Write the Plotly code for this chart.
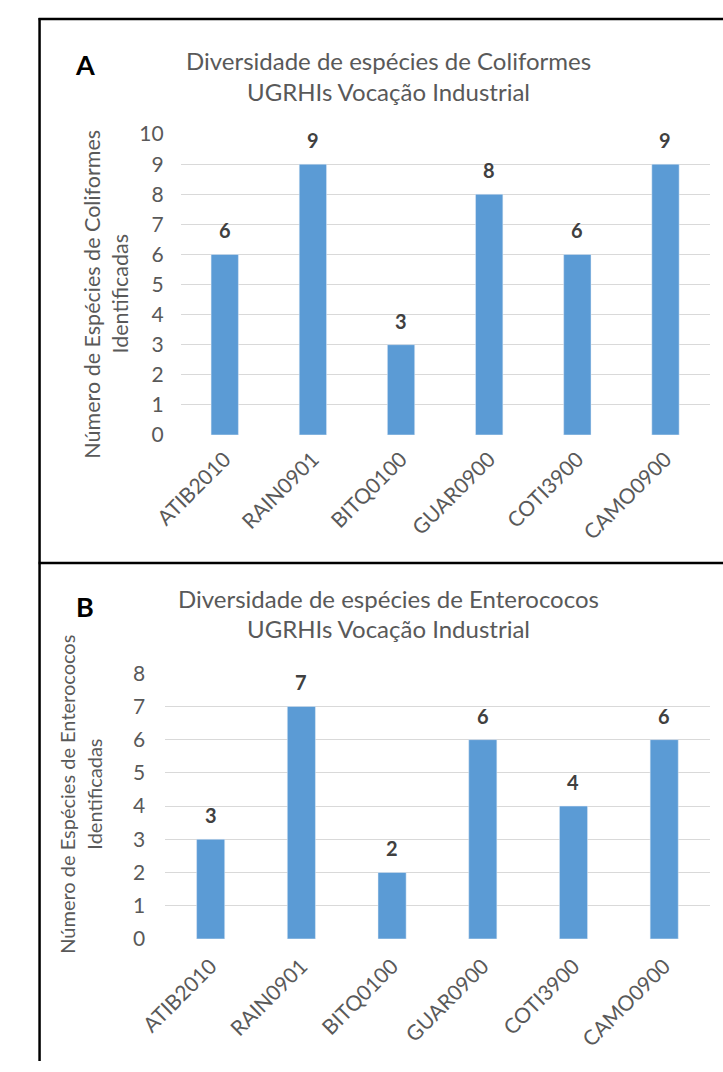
import plotly.graph_objects as go

W, H = 723, 1072

# Sampling stations and number of species identified
stations = ["ATIB2010", "RAIN0901", "BITQ0100", "GUAR0900", "COTI3900", "CAMO0900"]
coliformes = [6, 9, 3, 8, 6, 9]
enterococos = [3, 7, 2, 6, 4, 6]

title_a = ["Diversidade de espécies de Coliformes", "UGRHIs Vocação Industrial"]
title_b = ["Diversidade de espécies de Enterococos", "UGRHIs Vocação Industrial"]
ytitle_a = ["Número de Espécies de Coliformes", "Identificadas"]
ytitle_b = ["Número de Espécies de Enterococos", "Identificadas"]

FONT = "Lato"
GREY = "#595959"
DARK = "#404040"
BAR = "#5b9bd5"
GRID = "#d9d9d9"


def px(x):
    return x / W


def py(y):
    return 1 - y / H


fig = go.Figure()

fig.add_trace(go.Bar(x=stations, y=coliformes, marker_color=BAR,
                     xaxis="x", yaxis="y", showlegend=False, hoverinfo="skip"))
fig.add_trace(go.Bar(x=stations, y=enterococos, marker_color=BAR,
                     xaxis="x2", yaxis="y2", showlegend=False, hoverinfo="skip"))

ycommon = dict(showline=False, zeroline=False, ticks="", fixedrange=True,
               showgrid=True, gridcolor=GRID, gridwidth=1, dtick=1,
               tickfont=dict(family=FONT, size=21, color=GREY))
xcommon = dict(showline=False, zeroline=False, ticks="", fixedrange=True,
               showgrid=False, tickangle=-45,
               tickfont=dict(family=FONT, size=21, color=GREY))

fig.update_layout(
    width=W, height=H,
    margin=dict(l=0, r=0, t=0, b=0),
    paper_bgcolor="white", plot_bgcolor="white",
    bargap=0.69,
    font=dict(family=FONT, color=GREY),
    xaxis=dict(domain=[px(158), px(709)], anchor="y", ticklabelstandoff=7, **xcommon),
    yaxis=dict(domain=[py(431), py(123)], anchor="x", range=[0, 10],
               ticklabelstandoff=16, **ycommon),
    xaxis2=dict(domain=[px(142), px(709)], anchor="y2", ticklabelstandoff=10, **xcommon),
    yaxis2=dict(domain=[py(947), py(675)], anchor="x2", range=[0, 8],
                ticklabelstandoff=19, **ycommon),
)

ann = []
# value labels above each bar
for xa, ya, vals in (("x", "y", coliformes), ("x2", "y2", enterococos)):
    for s, v in zip(stations, vals):
        ann.append(dict(x=s, y=v, xref=xa, yref=ya, text=f"<b>{v}</b>", showarrow=False,
                        yanchor="middle", yshift=24,
                        font=dict(family=FONT, size=20, color=DARK)))

# panel titles
for lines, y1 in ((title_a, 48), (title_b, 598)):
    for i, t in enumerate(lines):
        ann.append(dict(x=px(375), y=py(y1 + 31 * i), xref="paper", yref="paper", text=t,
                        showarrow=False, xanchor="center", yanchor="middle",
                        font=dict(family=FONT, size=24, color=GREY)))

# panel letters
for letter, y in (("A", 52), ("B", 607)):
    ann.append(dict(x=px(58), y=py(y), xref="paper", yref="paper", text=f"<b>{letter}</b>",
                    showarrow=False, xanchor="center", yanchor="middle",
                    font=dict(family=FONT, size=27, color="black")))

# y axis titles
for lines, xs, yc, fs in ((ytitle_a, (66, 95), 287, 21.5), (ytitle_b, (40, 68), 799, 20)):
    for t, x in zip(lines, xs):
        ann.append(dict(x=px(x), y=py(yc), xref="paper", yref="paper", text=t,
                        showarrow=False, textangle=-90, xanchor="center", yanchor="middle",
                        font=dict(family=FONT, size=fs, color=GREY)))

fig.update_layout(annotations=ann)

# frame lines around the panels
line = dict(color="black", width=2.5)
fig.update_layout(shapes=[
    dict(type="line", xref="paper", yref="paper", x0=px(11), x1=px(11), y0=py(4), y1=0, line=line),
    dict(type="line", xref="paper", yref="paper", x0=px(10), x1=1, y0=py(5), y1=py(5), line=line),
    dict(type="line", xref="paper", yref="paper", x0=px(10), x1=1, y0=py(562), y1=py(562), line=line),
])

fig.write_html("out.html")
